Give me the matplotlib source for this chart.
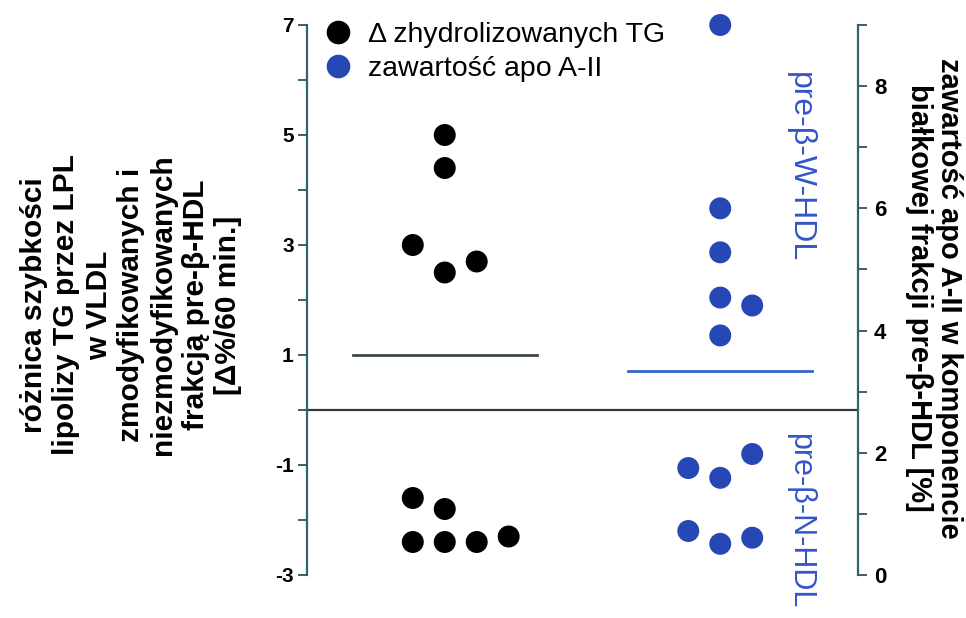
import matplotlib.pyplot as plt
from matplotlib.lines import Line2D

plt.rcParams['font.family'] = ['Liberation Sans', 'DejaVu Sans']
plt.rcParams['axes.unicode_minus'] = False

# black dots: difference in TG lipolysis rate (left axis)
tg_x_offset = [0, 0, -1, 0, 1, -1, 0, -1, 0, 1, 2]
tg_values = [5.0, 4.4, 3.0, 2.5, 2.7, -1.6, -1.8, -2.4, -2.4, -2.4, -2.3]
tg_mean = 1.0

# blue dots: apo A-II content (right axis)
apo_x_offset = [0, 0, 0, 0, 1, 0, 1, -1, 0, -1, 0, 1]
apo_values = [9.0, 6.0, 5.28, 4.54, 4.41, 3.92, 1.98, 1.75, 1.59, 0.72, 0.51, 0.61]
apo_mean = 3.34

group_centers = [1, 3]
dot_step = 0.232

left_ticks = [-3, -1, 1, 3, 5, 7]
right_ticks = [0, 2, 4, 6, 8]

spine_col = '#35606e'
blue = '#2747b5'
blue_txt = '#3355c8'

fig = plt.figure(figsize=(9.66, 6.18), dpi=100)
ax = fig.add_axes([307 / 966, 1 - 575 / 618, 551 / 966, 550 / 618])
ax2 = ax.twinx()

ax.set_xlim(0, 4)
ax.set_ylim(-3, 7)
ax2.set_ylim(0, 9)

for a in (ax, ax2):
    a.spines['top'].set_visible(False)
    a.spines['bottom'].set_visible(False)
    a.set_xticks([])
    a.patch.set_visible(False)
ax.spines['right'].set_visible(False)
ax2.spines['left'].set_visible(False)
ax.spines['left'].set_color(spine_col)
ax.spines['left'].set_linewidth(1.6)
ax2.spines['right'].set_color(spine_col)
ax2.spines['right'].set_linewidth(1.6)

ax.set_yticks(left_ticks)
ax.set_yticks([-2, 0, 2, 4, 6], minor=True)
ax.set_yticklabels([str(t) for t in left_ticks], fontsize=15, fontweight='bold')
ax.tick_params(axis='y', which='both', length=6.5, width=1.4, color=spine_col, pad=3)

ax2.set_yticks(right_ticks)
ax2.set_yticks([1, 3, 5, 7, 9], minor=True)
ax2.set_yticklabels([str(t) for t in right_ticks], fontsize=16, fontweight='bold')
ax2.tick_params(axis='y', which='both', length=6.5, width=1.4, color=spine_col, pad=5)

# zero line across the plot
ax.axhline(0, color='#2f3a40', lw=1.6)

tg_x = [group_centers[0] + o * dot_step for o in tg_x_offset]
apo_x = [group_centers[1] + o * dot_step for o in apo_x_offset]

ax.scatter(tg_x, tg_values, s=250, color='black', edgecolors='none', zorder=3, clip_on=False)
ax2.scatter(apo_x, apo_values, s=250, color=blue, edgecolors='none', zorder=3, clip_on=False)

ax.plot([group_centers[0] - 0.667, group_centers[0] + 0.667], [tg_mean, tg_mean], color='#3c464c', lw=2)
ax2.plot([group_centers[1] - 0.667, group_centers[1] + 0.667], [apo_mean, apo_mean], color='#3565cc', lw=2)

# group labels
ax.text(3.58, 6.15, 'pre-β-W-HDL', rotation=270, ha='center', va='top', color=blue_txt, fontsize=23)
ax.text(3.58, -0.42, 'pre-β-N-HDL', rotation=270, ha='center', va='top', color=blue_txt, fontsize=22,
        clip_on=False)

handles = [Line2D([], [], marker='o', ls='none', color='black', markersize=16),
           Line2D([], [], marker='o', ls='none', color=blue, markersize=16)]
ax.legend(handles, ['Δ zhydrolizowanych TG', 'zawartość apo A-II'], loc='upper left',
          bbox_to_anchor=(0.031, 1.006), frameon=False, fontsize=20.5, borderpad=0,
          borderaxespad=0, handlelength=0.95, handletextpad=0.6, labelspacing=0.28)

fig.text(131 / 966, 1 - 305 / 618,
         'różnica szybkości\nlipolizy TG przez LPL\nw VLDL\nzmodyfikowanych i\n'
         'niezmodyfikowanych\nfrakcją pre-β-HDL\n[Δ%/60 min.]',
         rotation=90, ha='center', va='center', fontsize=21.5, fontweight='bold',
         linespacing=1.2, multialignment='center')
fig.text(934 / 966, 1 - 298 / 618,
         'zawartość apo A-II w komponencie\nbiałkowej frakcji pre-β-HDL [%]',
         rotation=270, ha='center', va='center', fontsize=21, fontweight='bold',
         linespacing=1.1, multialignment='center')

fig.savefig('out.png', dpi=100)
